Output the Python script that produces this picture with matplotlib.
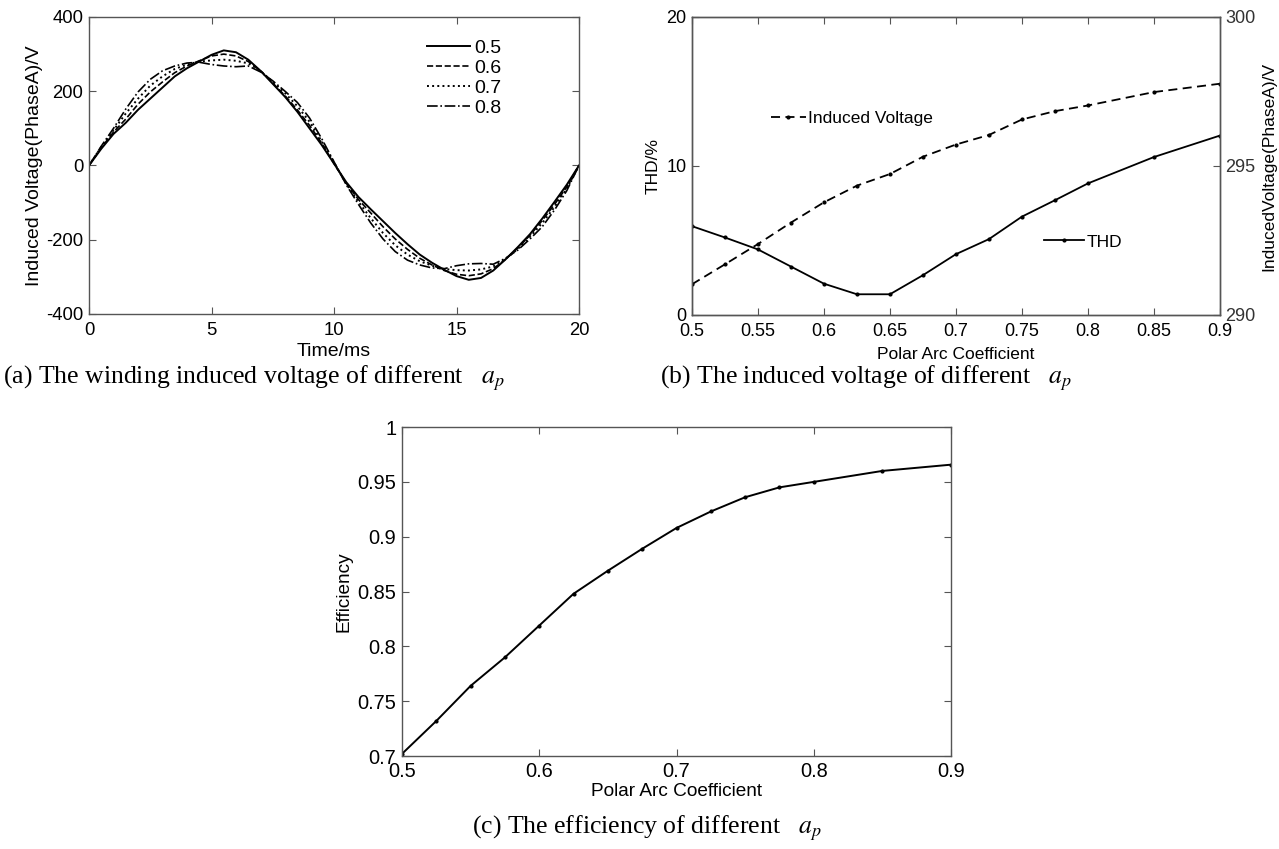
import numpy as np
import matplotlib
matplotlib.use("Agg")
from matplotlib import pyplot as plt

plt.rcParams['font.family'] = ['Liberation Sans', 'DejaVu Sans']
plt.rcParams['mathtext.fontset'] = 'stix'
plt.rcParams['axes.unicode_minus'] = False

# (a) winding induced voltage, sampled every 0.5 ms
t_ms = np.linspace(0, 20, 41)
v_05 = [0, 45, 85, 115, 150, 180, 210, 240, 262, 280, 298, 310, 305, 285, 255, 220, 185, 145, 100, 55, 5,
        -45, -85, -118, -150, -182, -212, -240, -262, -281, -298, -308, -303, -283, -253, -220, -185, -143, -98, -52, 0]
v_06 = [0, 48, 90, 125, 165, 198, 225, 250, 268, 282, 295, 300, 295, 280, 255, 222, 188, 150, 108, 60, 5,
        -48, -92, -128, -165, -198, -226, -250, -268, -283, -293, -297, -292, -278, -253, -222, -188, -148, -105, -58, 0]
v_07 = [0, 50, 95, 140, 180, 215, 240, 260, 272, 280, 283, 285, 282, 275, 255, 225, 195, 160, 118, 65, 8,
        -50, -98, -142, -182, -215, -240, -258, -270, -279, -282, -283, -280, -272, -252, -225, -192, -155, -112, -62, 0]
v_08 = [0, 52, 100, 152, 198, 232, 255, 268, 276, 278, 272, 268, 266, 268, 252, 228, 200, 170, 128, 72, 10,
        -52, -105, -155, -198, -232, -255, -268, -276, -278, -270, -265, -264, -266, -250, -228, -198, -165, -120, -68, 0]
wave_labels = ['0.5', '0.6', '0.7', '0.8']

# (b) THD and fundamental induced voltage vs polar arc coefficient
ap = [0.5, 0.525, 0.55, 0.575, 0.6, 0.625, 0.65, 0.675, 0.7, 0.725, 0.75, 0.775, 0.8, 0.85, 0.9]
thd = [5.96, 5.2, 4.4, 3.25, 2.1, 1.39, 1.39, 2.67, 4.08, 5.09, 6.6, 7.7, 8.83, 10.6, 12.04]
u_ind = [291.03, 291.7, 292.38, 293.1, 293.78, 294.34, 294.73, 295.31, 295.72, 296.04, 296.56, 296.84, 297.03, 297.48, 297.76]

# (c) efficiency
eff = [0.702, 0.732, 0.764, 0.790, 0.819, 0.848, 0.869, 0.889, 0.908, 0.923, 0.936, 0.945, 0.950, 0.960, 0.9657]

spine_c = '#555555'


def style(ax, size, mirror=True):
    for s in ax.spines.values():
        s.set_color(spine_c)
        s.set_linewidth(1.0)
    ax.tick_params(direction='in', length=5, width=0.8, color=spine_c,
                   labelsize=size, top=mirror, right=mirror, pad=4)


fig = plt.figure(figsize=(12.79, 8.49), dpi=100)

# ---- (a)
ax1 = fig.add_axes([0.0696, 0.6302, 0.3831, 0.3498])
ax1.plot(t_ms, v_05, 'k-', lw=1.4, label=wave_labels[0])
ax1.plot(t_ms, v_06, 'k--', lw=1.2, label=wave_labels[1])
ax1.plot(t_ms, v_07, 'k:', lw=1.4, label=wave_labels[2])
ax1.plot(t_ms, v_08, 'k-.', lw=1.2, label=wave_labels[3])
ax1.set_xlim(0, 20)
ax1.set_ylim(-400, 400)
ax1.set_xticks([0, 5, 10, 15, 20])
ax1.set_yticks([-400, -200, 0, 200, 400])
style(ax1, 13.3)
ax1.tick_params(axis='x', pad=6)
ax1.set_xlabel('Time/ms', fontsize=14, labelpad=3)
ax1.set_ylabel('Induced Voltage(PhaseA)/V', fontsize=14, labelpad=2)
ax1.legend(loc='upper left', bbox_to_anchor=(0.69, 0.925), frameon=False, fontsize=14,
           labelspacing=0.13, handlelength=2.2, handletextpad=0.2, borderpad=0, borderaxespad=0)

# ---- (b)
ax2 = fig.add_axes([0.541, 0.629, 0.4128, 0.351])
ax2.plot(ap, thd, 'k-', marker='.', ms=4, lw=1.3, label='THD')
ax2.set_xlim(0.5, 0.9)
ax2.set_ylim(0, 20)
ax2.set_xticks([0.5, 0.55, 0.6, 0.65, 0.7, 0.75, 0.8, 0.85, 0.9])
ax2.set_xticklabels(['0.5', '0.55', '0.6', '0.65', '0.7', '0.75', '0.8', '0.85', '0.9'])
ax2.set_yticks([0, 10, 20])
style(ax2, 13, mirror=False)
ax2.tick_params(top=True)
ax2.tick_params(axis='x', pad=6)
ax2.set_xlabel('Polar Arc Coefficient', fontsize=12.5, labelpad=5)
ax2.set_ylabel('THD/%', fontsize=12.5, labelpad=4)
ax2b = ax2.twinx()
ax2b.plot(ap, u_ind, 'k--', marker='.', ms=4, lw=1.3, dashes=(5, 3), label='Induced Voltage')
ax2b.set_ylim(290, 300)
ax2b.set_yticks([290, 295, 300])
style(ax2b, 13, mirror=False)
ax2b.tick_params(left=False, right=True, labelcolor='#333333')
ax2b.set_ylabel('InducedVoltage(PhaseA)/V', fontsize=12.5, labelpad=4)
ax2b.legend(loc='center left', bbox_to_anchor=(0.15, 0.66), frameon=False, fontsize=12.5,
            handlelength=2.0, handletextpad=0.15, borderpad=0, borderaxespad=0)
ax2.legend(loc='center left', bbox_to_anchor=(0.667, 0.245), frameon=False, fontsize=12.5,
           handlelength=2.3, handletextpad=0.15, borderpad=0, borderaxespad=0)

# ---- (c)
ax3 = fig.add_axes([0.3143, 0.1095, 0.4293, 0.3875])
ax3.plot(ap, eff, 'k-', marker='.', ms=4, lw=1.4)
ax3.set_xlim(0.5, 0.9)
ax3.set_ylim(0.7, 1.0)
ax3.set_xticks([0.5, 0.6, 0.7, 0.8, 0.9])
ax3.set_xticklabels(['0.5', '0.6', '0.7', '0.8', '0.9'])
ax3.set_yticks([0.7, 0.75, 0.8, 0.85, 0.9, 0.95, 1.0])
ax3.set_yticklabels(['0.7', '0.75', '0.8', '0.85', '0.9', '0.95', '1'])
style(ax3, 14.4)
ax3.set_xlabel('Polar Arc Coefficient', fontsize=13.7, labelpad=2)
ax3.set_ylabel('Efficiency', fontsize=13.7, labelpad=4)

# captions
cap = dict(fontsize=18.5, family='Liberation Serif', va='center', ha='left')
fig.text(0.002, 1 - 378 / 849, r'(a) The winding induced voltage of different   $a_p$', **cap)
fig.text(660 / 1279, 1 - 378 / 849, r'(b) The induced voltage of different   $a_p$', **cap)
fig.text(472 / 1279, 1 - 828 / 849, r'(c) The efficiency of different   $a_p$', **cap)

fig.savefig('out.png', dpi=100)
